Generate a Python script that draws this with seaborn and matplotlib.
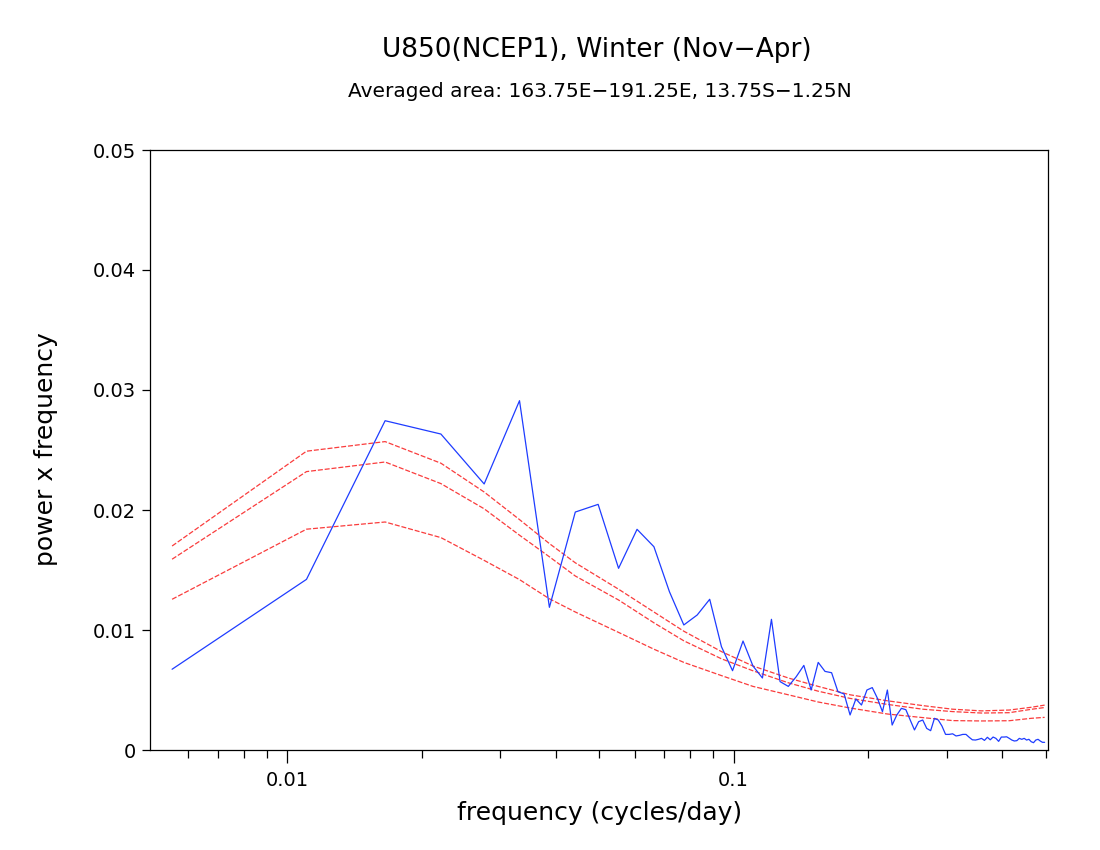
import numpy as np
import pandas as pd
import matplotlib
matplotlib.use('Agg')
import matplotlib.pyplot as plt
import matplotlib.ticker as mticker
import seaborn as sns

# spectrum harmonics (winter season, 181 days)
n_days = 181
harmonic = np.arange(1, 91)
freq = harmonic / n_days

# power x frequency of U850
power = [0.00673, 0.01422, 0.02744, 0.02633, 0.02217, 0.02911, 0.01189, 0.01983, 0.02047, 0.01514,
         0.01839, 0.01694, 0.01319, 0.01042, 0.01125, 0.01256, 0.00861, 0.00661, 0.00908, 0.00700,
         0.00600, 0.01089, 0.00570, 0.00530, 0.00611, 0.00705, 0.00500, 0.00730, 0.00655, 0.00644,
         0.00486, 0.00467, 0.00292, 0.00425, 0.00375, 0.00500, 0.00520, 0.00431, 0.00319, 0.00500,
         0.00208, 0.00292, 0.00347, 0.00336, 0.00250, 0.00167, 0.00236, 0.00250, 0.00180, 0.00161,
         0.00264, 0.00250, 0.00200, 0.00130, 0.00130, 0.00135, 0.00117, 0.00122, 0.00130, 0.00130,
         0.00106, 0.00085, 0.00083, 0.00089, 0.00097, 0.00080, 0.00106, 0.00085, 0.00108, 0.00097,
         0.00072, 0.00108, 0.00108, 0.00110, 0.00097, 0.00083, 0.00075, 0.00078, 0.00097, 0.00089,
         0.00097, 0.00083, 0.00089, 0.00069, 0.00061, 0.00083, 0.00089, 0.00075, 0.00064, 0.00064]

# red noise curves (mean and significance levels) at selected harmonics
red_harmonic = np.array([1, 2, 3, 4, 5, 6, 7, 8, 10, 12, 14, 17, 20, 24, 28, 33, 40, 48, 56, 65, 75, 84, 90])
red_top = [0.0170, 0.0249, 0.0257, 0.0239, 0.0215, 0.0192, 0.0172, 0.0156, 0.0134, 0.0115, 0.0099, 0.0082,
           0.0070, 0.0060, 0.0053, 0.0046, 0.0041, 0.0037, 0.0034, 0.00326, 0.00333, 0.00356, 0.00374]
red_mid = [0.0159, 0.0232, 0.0240, 0.0222, 0.0201, 0.0179, 0.0161, 0.0145, 0.0125, 0.0106, 0.0091, 0.0076,
           0.0066, 0.0056, 0.0049, 0.0043, 0.0038, 0.0034, 0.0032, 0.00308, 0.00311, 0.00339, 0.00354]
red_bot = [0.01256, 0.0184, 0.0190, 0.0177, 0.0158, 0.0142, 0.0126, 0.0115, 0.0098, 0.0084, 0.0073, 0.0062,
           0.0053, 0.0046, 0.0040, 0.0035, 0.0030, 0.0027, 0.00245, 0.00242, 0.00244, 0.00264, 0.00272]
red_freq = red_harmonic / n_days

# axis ticks
x_major = [0.01, 0.1]
x_major_labels = ['0.01', '0.1']
x_minor = [0.006, 0.007, 0.008, 0.009, 0.02, 0.03, 0.04, 0.05, 0.06, 0.07, 0.08, 0.09,
           0.2, 0.3, 0.4, 0.5]

sns.set_style('ticks')
plt.rcParams['font.family'] = ['DejaVu Sans']
for key in ['text.color', 'axes.labelcolor', 'xtick.color', 'ytick.color', 'axes.edgecolor']:
    plt.rcParams[key] = 'black'

fig = plt.figure(figsize=(11, 8.5), dpi=100)
ax = fig.add_axes([150 / 1100, 1 - 750 / 850, 898 / 1100, 600 / 850])

red = '#fa3c3c'
blue = '#1e3cff'
for curve in [red_top, red_mid, red_bot]:
    sns.lineplot(x=red_freq, y=curve, ax=ax, color=red, linewidth=0.9,
                 linestyle=(0, (4, 1.5)))
sns.lineplot(x=freq, y=power, ax=ax, color=blue, linewidth=0.9)

ax.set_xscale('log')
ax.set_xlim(0.00493, 0.506)
ax.set_ylim(0, 0.05)

ax.xaxis.set_major_locator(mticker.FixedLocator(x_major))
ax.xaxis.set_major_formatter(mticker.FixedFormatter(x_major_labels))
ax.xaxis.set_minor_locator(mticker.FixedLocator(x_minor))
ax.xaxis.set_minor_formatter(mticker.NullFormatter())
ax.yaxis.set_major_locator(mticker.MultipleLocator(0.01))
ax.yaxis.set_major_formatter(mticker.FuncFormatter(lambda v, p: '0' if abs(v) < 1e-9 else '%g' % v))

ax.tick_params(axis='x', which='major', direction='out', length=9, width=0.9, labelsize=14, pad=6)
ax.tick_params(axis='x', which='minor', direction='out', length=6, width=0.9)
ax.tick_params(axis='y', which='major', direction='out', length=6, width=0.9, labelsize=14, pad=4)
for s in ax.spines.values():
    s.set_visible(True)
    s.set_linewidth(0.9)
    s.set_color('black')
ax.set_xlabel('')
ax.set_ylabel('')

fig.text(0.543, 0.941, 'U850(NCEP1), Winter (Nov\u2212Apr)', ha='center', va='center', fontsize=19)
fig.text(0.545, 0.892, 'Averaged area: 163.75E\u2212191.25E, 13.75S\u22121.25N', ha='center', va='center', fontsize=14.5)
fig.text(0.545, 0.044, 'frequency (cycles/day)', ha='center', va='center', fontsize=18)
fig.text(0.042, 0.472, 'power x frequency', ha='center', va='center', rotation=90, fontsize=18)

fig.savefig('out.png', dpi=100, facecolor='white')
